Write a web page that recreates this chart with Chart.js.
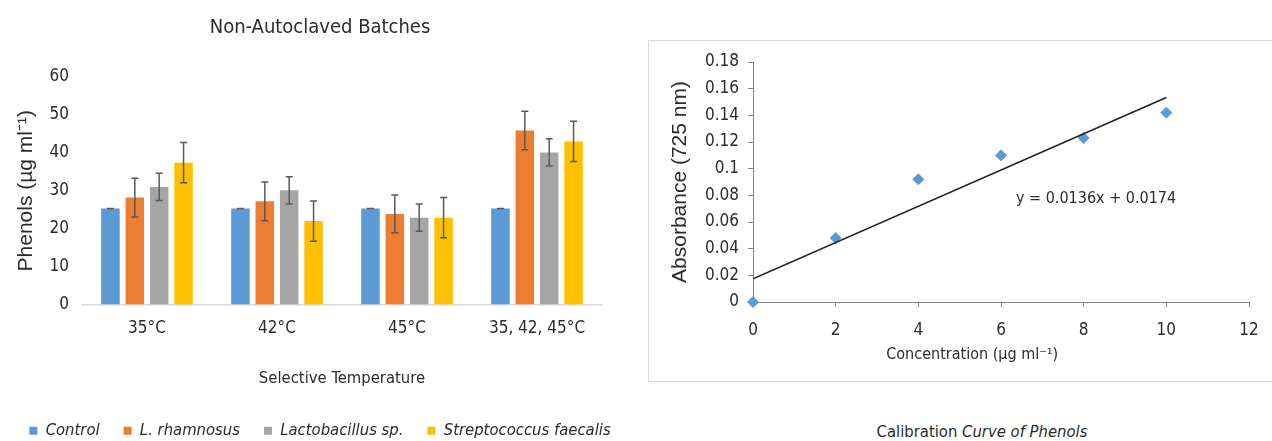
<!DOCTYPE html>
<html lang="en">
<head>
  <meta charset="UTF-8">
  <title>Phenols - Non-Autoclaved Batches</title>
  <script src="https://cdn.jsdelivr.net/npm/chart.js"></script>
  <style>
    body {
      margin: 0;
      width: 1272px;
      height: 441px;
      overflow: hidden;
      position: relative;
      background: #fff;
      font-family: 'DejaVu Sans Condensed', 'Liberation Sans', sans-serif;
      color: #2b2b2b;
    }
    #leftWrap {
      position: absolute;
      left: 0;
      top: 0;
      width: 640px;
      height: 449px;
    }
    #box {
      position: absolute;
      left: 648px;
      top: 40px;
      width: 660px;
      height: 340px;
      border: 1.5px solid #d9d9d9;
    }
    #rightWrap {
      position: absolute;
      left: 0;
      top: 0;
      width: 624px;
      height: 340px;
    }
    #caption {
      position: absolute;
      left: 832px;
      width: 300px;
      top: 422px;
      text-align: center;
      font-size: 16.5px;
    }
  </style>
</head>
<body>
  <div id="leftWrap"><canvas id="barChart"></canvas></div>
  <div id="box"><div id="rightWrap"><canvas id="calChart"></canvas></div></div>
  <div id="caption">Calibration <i>Curve of Phenols</i></div>

  <script>
    // bar chart data
    const temperatures = ['35°C', '42°C', '45°C', '35, 42, 45°C'];
    const control = [25.3, 25.3, 25.3, 25.3];
    const rhamnosus = [28.2, 27.2, 23.9, 45.9];
    const lactobacillus = [31.0, 30.1, 22.9, 40.1];
    const faecalis = [37.4, 22.0, 22.9, 43.0];
    const errControl = [0, 0, 0, 0];
    const errRhamnosus = [5.1, 5.1, 5.0, 5.1];
    const errLactobacillus = [3.6, 3.6, 3.6, 3.6];
    const errFaecalis = [5.3, 5.3, 5.3, 5.3];

    // calibration curve data
    const concentration = [0, 2, 4, 6, 8, 10];
    const absorbance = [0, 0.048, 0.092, 0.11, 0.123, 0.142];
    const slope = 0.0136;
    const intercept = 0.0174;
    const trendRange = [0, 10];

    const FONT = "'DejaVu Sans Condensed', 'Liberation Sans', sans-serif";
    const ROT_FONT = "'Liberation Sans', Arial, sans-serif";
    const TEXT = '#2b2b2b';
    Chart.defaults.font.family = FONT;
    Chart.defaults.font.size = 17;
    Chart.defaults.color = TEXT;

    const errorBars = {
      id: 'errorBars',
      afterDatasetsDraw(chart) {
        const ctx = chart.ctx;
        const y = chart.scales.y;
        ctx.save();
        ctx.strokeStyle = '#595959';
        ctx.lineWidth = 1.5;
        chart.data.datasets.forEach((ds, i) => {
          const meta = chart.getDatasetMeta(i);
          meta.data.forEach((bar, j) => {
            const v = ds.data[j];
            const e = ds.errors[j];
            const top = y.getPixelForValue(v + e);
            const bot = y.getPixelForValue(v - e);
            ctx.beginPath();
            ctx.moveTo(bar.x, top);
            ctx.lineTo(bar.x, bot);
            ctx.moveTo(bar.x - 3.5, top);
            ctx.lineTo(bar.x + 3.5, top);
            ctx.moveTo(bar.x - 3.5, bot);
            ctx.lineTo(bar.x + 3.5, bot);
            ctx.stroke();
          });
        });
        ctx.restore();
      }
    };

    new Chart(document.getElementById('barChart'), {
      type: 'bar',
      data: {
        labels: temperatures,
        datasets: [
          { label: 'Control', data: control, errors: errControl, backgroundColor: '#5b9bd5' },
          { label: 'L. rhamnosus', data: rhamnosus, errors: errRhamnosus, backgroundColor: '#ed7d31' },
          { label: 'Lactobacillus sp.', data: lactobacillus, errors: errLactobacillus, backgroundColor: '#a5a5a5' },
          { label: 'Streptococcus faecalis', data: faecalis, errors: errFaecalis, backgroundColor: '#ffc000' }
        ]
      },
      options: {
        responsive: true,
        maintainAspectRatio: false,
        animation: false,
        categoryPercentage: 0.75,
        barPercentage: 0.76,
        layout: { padding: 0 },
        plugins: {
          title: {
            display: true,
            text: 'Non-Autoclaved Batches',
            font: { size: 20, weight: 'normal' },
            padding: { top: 16, bottom: 37 }
          },
          legend: {
            position: 'bottom',
            labels: {
              boxWidth: 8,
              boxHeight: 8,
              padding: 24,
              font: { style: 'italic', size: 16.5 }
            }
          },
          tooltip: { enabled: false }
        },
        scales: {
          x: {
            grid: { display: false, drawTicks: false },
            border: { display: true, color: '#d9d9d9', width: 1.5 },
            ticks: { padding: 14 },
            title: {
              display: true,
              text: 'Selective Temperature',
              font: { size: 16.5 },
              padding: { top: 0, bottom: 10 }
            },
            afterFit: s => { s.height = 94; }
          },
          y: {
            min: 0,
            max: 60,
            ticks: { stepSize: 10, padding: 13 },
            grid: { display: false, drawTicks: false },
            border: { display: false },
            title: {
              display: true,
              text: 'Phenols (µg ml⁻¹)',
              font: { family: ROT_FONT, size: 21 },
              padding: { top: 14, bottom: 0 }
            },
            afterFit: s => { s.width = 82; }
          },
          // empty right margin so the legend can use the full width
          yRight: {
            position: 'right',
            ticks: { display: false },
            grid: { display: false, drawTicks: false },
            border: { display: false },
            afterFit: s => { s.width = 38; }
          }
        }
      },
      plugins: [errorBars]
    });

    const equationLabel = {
      id: 'equationLabel',
      afterDatasetsDraw(chart) {
        const ctx = chart.ctx;
        ctx.save();
        ctx.font = '16px ' + FONT;
        ctx.fillStyle = TEXT;
        ctx.textAlign = 'center';
        ctx.textBaseline = 'middle';
        ctx.fillText('y = ' + slope + 'x + ' + intercept,
          chart.scales.x.getPixelForValue(8.3), chart.scales.y.getPixelForValue(0.0775));
        ctx.restore();
      }
    };

    new Chart(document.getElementById('calChart'), {
      type: 'scatter',
      data: {
        datasets: [
          {
            type: 'line',
            data: trendRange.map(x => ({ x: x, y: slope * x + intercept })),
            borderColor: '#1f1f1f',
            borderWidth: 1.5,
            pointRadius: 0,
            fill: false
          },
          {
            data: concentration.map((x, i) => ({ x: x, y: absorbance[i] })),
            pointStyle: 'rectRot',
            pointRadius: 5.5,
            backgroundColor: '#5b9bd5',
            borderColor: '#5b9bd5',
            clip: false
          }
        ]
      },
      options: {
        responsive: true,
        maintainAspectRatio: false,
        animation: false,
        layout: { padding: { left: 0, right: 24, top: 21, bottom: 0 } },
        plugins: {
          legend: { display: false },
          tooltip: { enabled: false }
        },
        scales: {
          x: {
            type: 'linear',
            min: 0,
            max: 12,
            ticks: { stepSize: 2, padding: 13, font: { size: 17 } },
            grid: { display: true, drawOnChartArea: false, drawTicks: true, tickLength: 5, color: '#868686' },
            border: { display: true, color: '#868686', width: 1 },
            title: {
              display: true,
              // trailing em spaces pull the centred title left, as in the original
              text: 'Concentration (µg ml⁻¹)\u2003\u2003\u2003\u2003',
              font: { size: 16 },
              padding: { top: 0, bottom: 17 }
            },
            afterFit: s => { s.height = 79; }
          },
          y: {
            min: 0,
            max: 0.18,
            ticks: {
              stepSize: 0.02,
              padding: 9,
              font: { size: 17 },
              callback: v => String(+v.toFixed(2))
            },
            grid: { display: true, drawOnChartArea: false, drawTicks: true, tickLength: 5, color: '#868686' },
            border: { display: true, color: '#868686', width: 1 },
            title: {
              display: true,
              text: 'Absorbance (725 nm)',
              font: { family: ROT_FONT, size: 21 },
              padding: { top: 19, bottom: 0 }
            },
            afterFit: s => { s.width = 104; }
          }
        }
      },
      plugins: [equationLabel]
    });
  </script>
</body>
</html>
